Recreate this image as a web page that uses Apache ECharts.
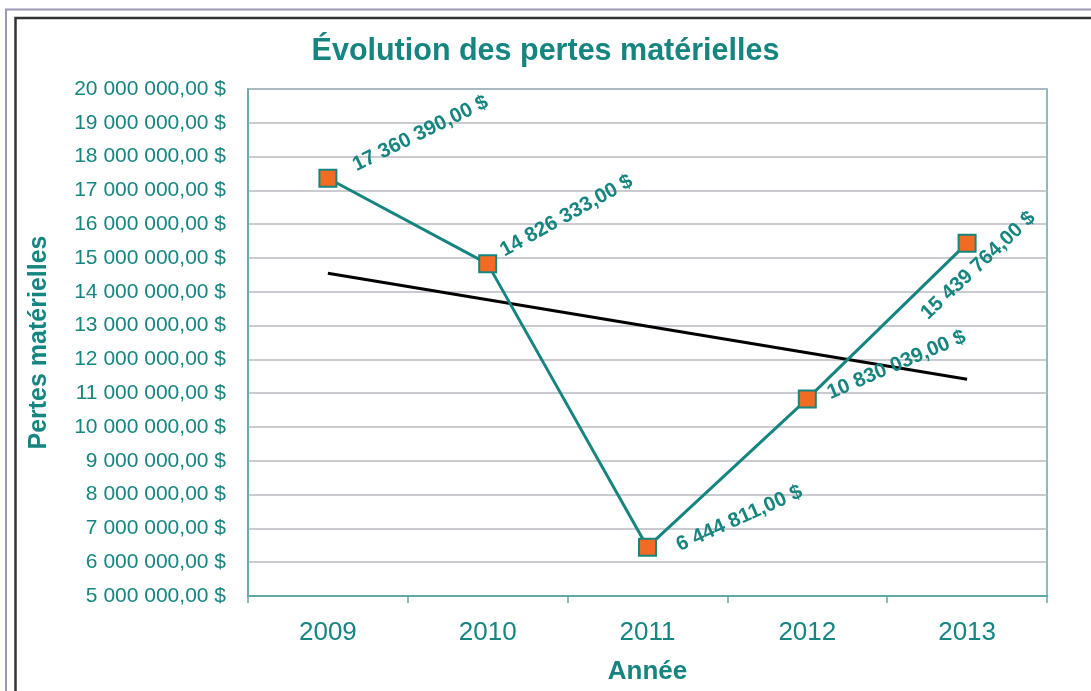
<!DOCTYPE html>
<html>
<head>
<meta charset="utf-8">
<script src="https://cdn.jsdelivr.net/npm/echarts@6/dist/echarts.min.js"></script>
<style>
  html, body { margin: 0; padding: 0; background: #fff; }
  #main { width: 1091px; height: 691px; }
</style>
</head>
<body>
<div id="main"></div>
<script>
// données
var annees = ['2009', '2010', '2011', '2012', '2013'];
var pertes = [17360390, 14826333, 6444811, 10830039, 15439764];
// tendance linéaire (extrémités seulement)
var tendance = [14550000, null, null, null, 11410000];
// rotation / décalage (écran) des étiquettes
var rotations = [26, 29, 24, 23, 43];
var decalages = [[26, -12], [14, -12], [30, -1], [21, -5], [-43, 73]];

var teal = '#17857f';
var tealAxe = '#5ea9a5';

function fmt(v) {
  var s = String(Math.round(v)).replace(/\B(?=(\d{3})+(?!\d))/g, ' ');
  return s + ',00 $';
}

// l'offset du label est appliqué dans le repère tourné -> conversion
function offsetTourne(d, deg) {
  var t = deg * Math.PI / 180;
  var c = Math.cos(t), s = Math.sin(t);
  return [d[0] * c - d[1] * s, d[0] * s + d[1] * c];
}

var pointsData = pertes.map(function (v, i) {
  return {
    value: v,
    label: { rotate: rotations[i], offset: offsetTourne(decalages[i], rotations[i]) }
  };
});

var myChart = echarts.init(document.getElementById('main'));

var option = {
  backgroundColor: '#ffffff',
  animation: false,
  textStyle: { fontFamily: 'Liberation Sans, Arial, sans-serif' },
  title: {
    text: 'Évolution des pertes matérielles',
    left: 'center',
    top: 31,
    textStyle: { color: teal, fontSize: 30.5, fontWeight: 'bold', fontFamily: 'Liberation Sans' }
  },
  graphic: [
    {
      type: 'polyline',
      shape: { points: [[6, 691], [6, 9.5], [1091, 9.5]] },
      style: { stroke: '#9c97b6', lineWidth: 2, fill: null }
    },
    {
      type: 'polyline',
      shape: { points: [[15.5, 691], [15.5, 18], [1091, 18]] },
      style: { stroke: '#333333', lineWidth: 2.5, fill: null }
    }
  ],
  grid: {
    left: 248, right: 44, top: 89, bottom: 95,
    outerBoundsMode: 'none',
    containLabel: false,
    show: true, borderColor: tealAxe, borderWidth: 1.5, backgroundColor: 'transparent'
  },
  xAxis: {
    type: 'category',
    data: annees,
    boundaryGap: true,
    name: 'Année',
    nameLocation: 'middle',
    nameGap: 63,
    nameTextStyle: { color: teal, fontSize: 26, fontWeight: 'bold' },
    axisLine: { lineStyle: { color: tealAxe, width: 2 } },
    axisTick: { show: true, length: 7, lineStyle: { color: tealAxe, width: 1.5 } },
    axisLabel: { color: teal, fontSize: 26, margin: 24 },
    splitLine: { show: false }
  },
  yAxis: {
    type: 'value',
    min: 5000000,
    max: 20000000,
    interval: 1000000,
    name: 'Pertes matérielles',
    nameLocation: 'middle',
    nameRotate: 90,
    nameGap: 196,
    nameTextStyle: { color: teal, fontSize: 25, fontWeight: 'bold' },
    axisLine: { show: true, lineStyle: { color: tealAxe, width: 1.5 } },
    axisTick: { show: false },
    axisLabel: { color: teal, fontSize: 21, margin: 22, formatter: fmt },
    splitLine: { lineStyle: { color: '#b9b9c2', width: 1.5 } }
  },
  series: [
    {
      name: 'Tendance',
      type: 'line',
      data: tendance,
      connectNulls: true,
      showSymbol: false,
      symbol: 'none',
      lineStyle: { color: '#000000', width: 3 },
      z: 2
    },
    {
      name: 'Pertes',
      type: 'line',
      data: pointsData,
      symbol: 'rect',
      symbolSize: 17,
      lineStyle: { color: teal, width: 3 },
      itemStyle: { color: '#f26b23', borderColor: teal, borderWidth: 2 },
      label: {
        show: true,
        position: 'inside',
        align: 'left',
        verticalAlign: 'middle',
        color: teal,
        fontSize: 20.5,
        fontWeight: 'bold',
        formatter: function (p) { return fmt(p.value); }
      },
      z: 3
    }
  ]
};

myChart.setOption(option);
</script>
</body>
</html>
